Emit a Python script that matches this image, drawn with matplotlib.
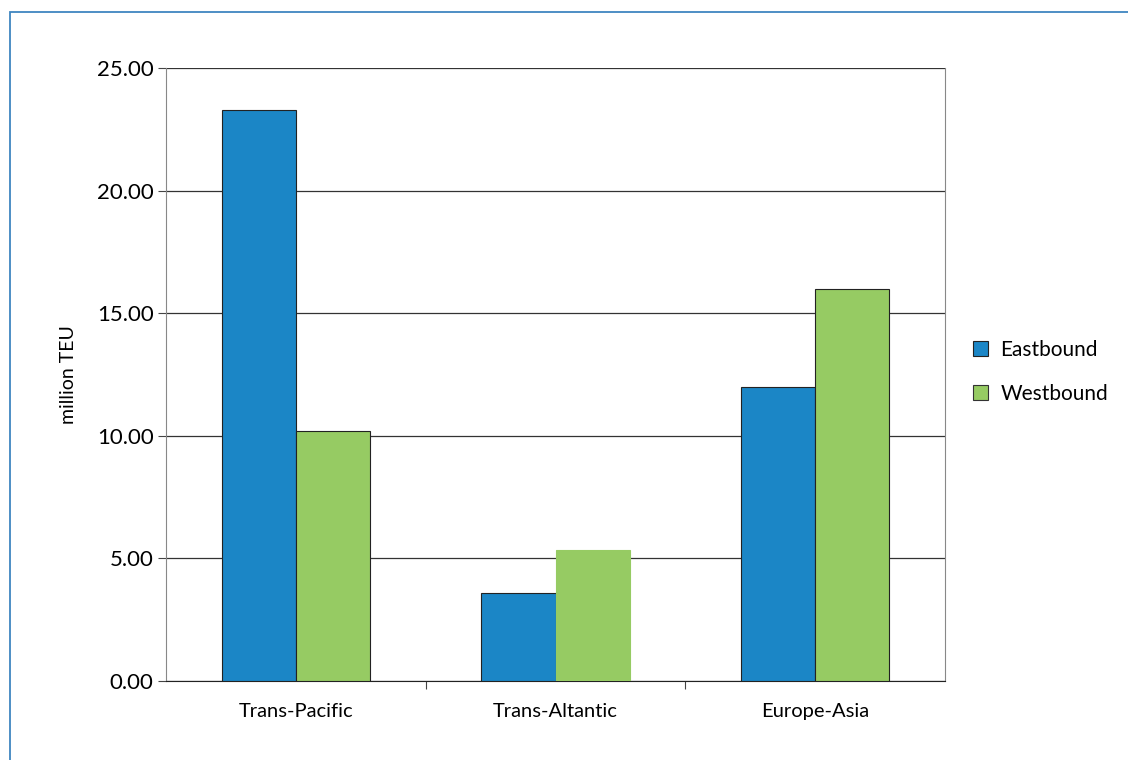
import matplotlib.pyplot as plt
import numpy as np
from matplotlib.patches import Rectangle

routes = ["Trans-Pacific", "Trans-Altantic", "Europe-Asia"]
eastbound = [23.3, 3.6, 12.0]
westbound = [10.2, 5.35, 16.0]
y_ticks = [0, 5, 10, 15, 20, 25]

BLUE = "#1B86C6"
GREEN = "#96CB63"

plt.rcParams["font.family"] = ["Lato", "DejaVu Sans"]

fig = plt.figure(figsize=(11.28, 7.6), dpi=100)
ax = fig.add_axes([166 / 1128, 1 - 681 / 760, 779 / 1128, 613 / 760])

# borda azul do quadro
fig.patches.append(Rectangle((10 / 1128, -0.1), 1.2, (760 - 12) / 760 + 0.1,
                             transform=fig.transFigure, fill=False,
                             edgecolor="#3F86C0", linewidth=1.3))

x = np.arange(len(routes))
largura = 0.285
ax.bar(x - largura / 2, eastbound, largura, color=BLUE,
       edgecolor="#222222", linewidth=0.8, label="Eastbound", zorder=3)
ax.bar(x + largura / 2, westbound, largura, color=GREEN,
       edgecolor=["#222222", GREEN, "#222222"], linewidth=0.8,
       label="Westbound", zorder=3)

ax.set_xlim(-0.5, 2.5)
ax.set_ylim(0, 25)
ax.set_yticks(y_ticks)
ax.set_yticklabels([f"{v:.2f}" for v in y_ticks], fontsize=16)
ax.set_xticks([0.5, 1.5])
ax.set_xticklabels([])
ax.set_xticks(x, minor=True)
ax.set_xticklabels(routes, minor=True)
ax.tick_params(axis="x", which="minor", length=0, pad=16, labelsize=14.5)
ax.tick_params(axis="x", which="major", length=6, color="#444444")
ax.tick_params(axis="y", length=6, color="#444444", pad=3)
ax.yaxis.grid(True, color="#333333", linewidth=0.9, zorder=0)
ax.set_axisbelow(True)
for lado in ["left", "right", "top"]:
    ax.spines[lado].set_color("#888888")
ax.spines["top"].set_visible(False)
ax.spines["bottom"].set_color("#222222")
ax.set_ylabel("million TEU", fontsize=14, labelpad=14)

leg = ax.legend(loc="center left", bbox_to_anchor=(1.012, 0.504), frameon=False,
                fontsize=15, handlelength=0.7, handleheight=0.7, labelspacing=1.15,
                handletextpad=0.6)
leg.legend_handles[1].set_edgecolor("#333333")

fig.savefig("out.png", dpi=100)
